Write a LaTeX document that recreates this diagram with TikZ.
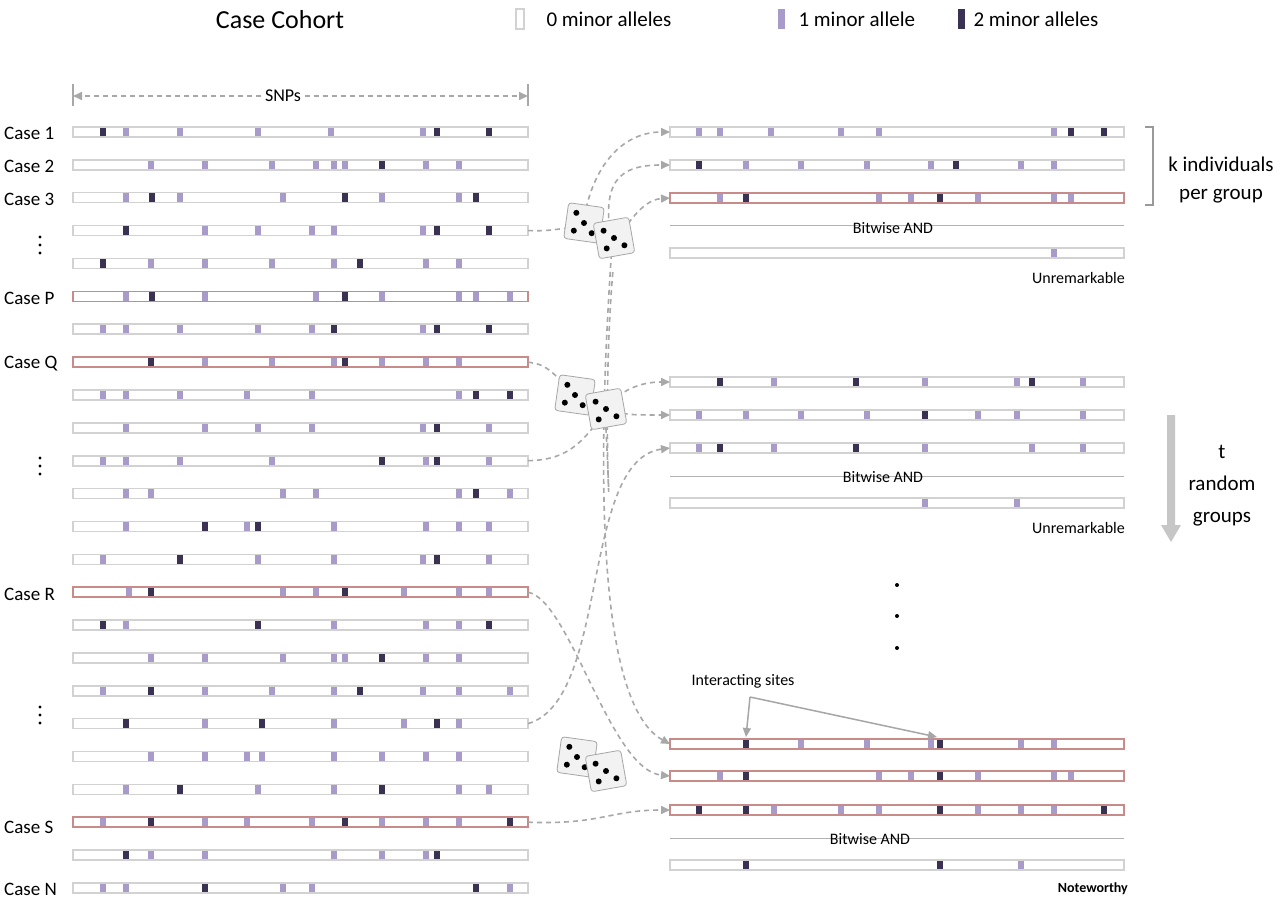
\documentclass[tikz,border=0pt]{standalone}
\usepackage{fontspec}
\setmainfont{Carlito}
\usetikzlibrary{arrows.meta}
\definecolor{lgt}{HTML}{A99BC9}
\definecolor{drk}{HTML}{3B3153}
\definecolor{frm}{HTML}{D2D2D2}
\definecolor{redf}{HTML}{C98A8A}
\definecolor{con}{HTML}{A8A8A8}
\newcommand\snprow[7]{%
  \fill[white] (#2,#4-5) rectangle (#3,#4+5);
  \foreach \xx in {#6}{\fill[lgt] (\xx-3,#4-5.5) rectangle (\xx+3,#4+5.5);}
  \foreach \xx in {#7}{\fill[drk] (\xx-3,#4-5.5) rectangle (\xx+3,#4+5.5);}
  \draw[#5,line width=1.6pt] (#2,#4-5) rectangle (#3,#4+5);
  \coordinate (#1e) at (#3,#4); \coordinate (#1w) at (#2,#4);}
\newcommand\lrow[5]{\snprow{#1}{73}{528}{#2}{#3}{#4}{#5}}
\newcommand\rrow[5]{\snprow{#1}{670}{1124}{#2}{#3}{#4}{#5}}
\newcommand\mydie[3]{%
  \begin{scope}[shift={(#1,#2)},rotate=#3]
    \filldraw[fill=white!90!gray,draw=gray!70,line width=0.8pt,rounded corners=3pt] (-18,-18) rectangle (18,18);
    \fill[black] (-9,-9) circle (3) (9,9) circle (3) (0,0) circle (3) (-9,9) circle (3);
  \end{scope}}
\newcommand\vdts[1]{\fill (40,#1-8) circle (1.7) (40,#1) circle (1.7) (40,#1+8) circle (1.7);}
\tikzset{conn/.style={con,dashed,line width=1.6pt,dash pattern=on 5pt off 4pt,-{Triangle[length=9pt,width=8pt]}},
  plain/.style={con,dashed,line width=1.6pt,dash pattern=on 5pt off 4pt},
  lab/.style={font=\fontsize{19}{19}\selectfont,anchor=west,inner sep=0},
  small/.style={font=\fontsize{16}{16}\selectfont,inner sep=0}}
\begin{document}
\begin{tikzpicture}[x=1pt,y=-1pt]
\useasboundingbox[fill=white] (0,0) rectangle (1280,901);
% header
\node[font=\fontsize{26}{26}\selectfont] (title) at (280,20) {Case Cohort};
\draw[frm,line width=1.5pt] (516,9) rectangle (524,29);
\node[font=\fontsize{21}{21}\selectfont,anchor=west] (l0) at (543,19) {0 minor alleles};
\fill[lgt] (778,9) rectangle (785,29);
\node[font=\fontsize{21}{21}\selectfont,anchor=west] (l1) at (795,19) {1 minor allele};
\fill[drk] (958,9) rectangle (965,29);
\node[font=\fontsize{21}{21}\selectfont,anchor=west] (l2) at (970,19) {2 minor alleles};
% SNPs
\draw[con,line width=1.2pt] (73,84) -- (73,106) (528,84) -- (528,106);
\node[font=\fontsize{18}{18}\selectfont] (snp) at (283,96) {SNPs};
\coordinate (sa) at (73,96); \coordinate (sb) at (528,96);
\draw[conn] (snp.west) -- (sa);
\draw[conn] (snp.east) -- (sb);
% left rows
\lrow{r1}{132}{frm}{126,180,258,331,423}{103,437,489}
\lrow{r2}{164.9}{frm}{151,205,272,316,334,345,426,459}{382}
\lrow{r3}{197.7}{frm}{126,180,283,382,459}{152,345,476}
\lrow{r4}{230.6}{frm}{205,258,312,334,423}{126,437,489}
\lrow{r5}{263.5}{frm}{151,205,272,334,426,459}{103,360}
\lrow{r6}{296.4}{redf}{126,205,316,382,459,476,510}{152,345}
\lrow{r7}{329.2}{frm}{103,126,180,258,312,423}{334,437,489}
\lrow{r8}{362.1}{redf}{205,272,334,382,426,459}{151,345}
\lrow{r9}{395}{frm}{103,126,180,247,312,459}{476,510}
\lrow{r10}{427.8}{frm}{126,205,258,312,423,489}{437}
\lrow{r11}{460.7}{frm}{103,126,180,272,426,489}{382,437}
\lrow{r12}{493.6}{frm}{126,151,283,316,459,510}{476}
\lrow{r13}{526.4}{frm}{126,247,334,426,459,489}{205,258}
\lrow{r14}{559.3}{frm}{103,258,334,423,489}{180,437}
\lrow{r15}{592.2}{redf}{129,283,316,404,459,489}{151,345}
\lrow{r16}{625}{frm}{126,334,426,459}{103,258,489}
\lrow{r17}{657.9}{frm}{151,205,283,334,345,426,459}{382}
\lrow{r18}{690.8}{frm}{103,205,272,334,423,459,510}{151,360}
\lrow{r19}{723.6}{frm}{205,334,404,459}{126,262,437}
\lrow{r20}{756.5}{frm}{151,205,247,262,334,382,426,459}{2000}
\lrow{r21}{789.4}{frm}{126,258,334,459,489}{180,382}
\lrow{r22}{822.2}{redf}{103,205,247,312,382,426,459}{151,345,510}
\lrow{r23}{855.1}{frm}{151,205,334,382,426}{126,437}
\lrow{r24}{888}{frm}{103,126,283,312,510}{205,476}
% left labels
\node[lab] (c1) at (4,133) {Case 1};
\node[lab] (c2) at (4,166) {Case 2};
\node[lab] (c3) at (4,199) {Case 3};
\node[lab] (cp) at (4,298) {Case P};
\node[lab] (cq) at (4,364) {Case Q};
\node[lab] (cr) at (4,594) {Case R};
\node[lab] (cs) at (4,827) {Case S};
\node[lab] (cn) at (4,889) {Case N};
\vdts{245}
\vdts{466}
\vdts{715}
% right group 1
\rrow{ga}{132}{frm}{699,720,771,841,879,1054}{1071,1104}
\rrow{gb}{165}{frm}{746,801,867,931,1021,1054}{699,956}
\rrow{gc}{198}{redf}{720,879,911,978,1054,1071}{746,940}
\draw[gray!60,line width=1pt] (670,226) -- (1124,226);
\node[small] (bw1) at (893,228) {Bitwise AND};
\rrow{gd}{253}{frm}{1054}{2000}
\node[small,anchor=east] (u1) at (1125,278) {Unremarkable};
% group 2
\rrow{ha}{382}{frm}{774,925,1017,1083}{720,856,1032}
\rrow{hb}{415}{frm}{699,746,801,867,978,1017,1083}{925}
\rrow{hc}{448}{frm}{699,774,925,1032,1083}{720,856}
\draw[gray!60,line width=1pt] (670,476) -- (1124,476);
\node[small] (bw2) at (883,477) {Bitwise AND};
\rrow{hd}{503}{frm}{925,1017}{2000}
\node[small,anchor=east] (u2) at (1125,528) {Unremarkable};
% dots
\fill (897,585) circle (2) (897,616) circle (2) (897,648) circle (2);
% group 3
\rrow{ka}{744}{redf}{801,867,931,1021,1054}{746,940}
\rrow{kb}{776}{redf}{720,879,911,978,1054,1071}{746,940}
\rrow{kc}{810}{redf}{774,841,879,978,1021,1054}{699,746,940,1104}
\draw[gray!60,line width=1pt] (670,838) -- (1124,838);
\node[small] (bw3) at (870,839) {Bitwise AND};
\rrow{kd}{865}{frm}{1021}{746,940}
\node[small,anchor=east,font=\bfseries\fontsize{14}{14}\selectfont] (nw) at (1128,889) {Noteworthy};
\node[small] (is) at (743,681) {Interacting sites};
\coordinate (isa) at (750,697);
\coordinate (t1) at (746,737); \coordinate (t2) at (937,737);
\draw[gray!70,line width=1.5pt,-{Triangle[length=9pt,width=8pt]}] (isa) -- (t1);
\draw[gray!70,line width=1.5pt,-{Triangle[length=9pt,width=8pt]}] (isa) -- (t2);
% bracket and arrow
\draw[gray!80,line width=1.2pt] (1145,127) -- (1153,127) -- (1153,205) -- (1145,205);
\node[font=\fontsize{21}{28}\selectfont,align=center] (kind) at (1221,180) {k individuals\\per group};
\fill[gray!45] (1167,415) rectangle (1175,525) (1161,525) -- (1181,525) -- (1171,542) -- cycle;
\node[font=\fontsize{21}{32}\selectfont,align=center] (trg) at (1222,486) {t\\random\\groups};
% dice
\coordinate (d1) at (583,226); \coordinate (d1o) at (612,245);
\coordinate (d2) at (575,394); \coordinate (d2o) at (605,410);
\coordinate (d3) at (577,758); \coordinate (d3o) at (606,770);
\coordinate (mid) at (613,270);
% connectors
\draw[plain] (r4e) .. controls (545,231) .. (d1);
\draw[conn] (d1) .. controls (590,170) and (620,132) .. (gaw);
\draw[conn] (d1o) .. controls (600,180) and (620,165) .. (gbw);
\draw[conn] (d1o) .. controls (625,230) and (640,200) .. (gcw);
\draw[plain] (r8e) .. controls (545,365) .. (d2);
\draw[plain] (r11e) .. controls (560,460) and (580,450) .. (d2o);
\draw[conn] (d2o) .. controls (620,390) and (640,382) .. (haw);
\draw[conn] (d2o) .. controls (630,415) .. (hbw);
\draw[conn] (r19e) .. controls (610,700) and (580,460) .. (hcw);
\draw[conn] (d1o) .. controls (600,420) and (590,700) .. (kaw);
\draw[conn] (r15e) .. controls (570,600) and (610,770) .. (kbw);
\draw[conn] (r22e) .. controls (600,825) and (610,810) .. (kcw);
\draw[plain] (d2o) .. controls (615,600) and (600,420) .. (mid);
\mydie{584}{223}{-8}
\mydie{614}{238}{10}
\mydie{575}{395}{-8}
\mydie{606}{409}{10}
\mydie{577}{757}{-8}
\mydie{606}{771}{10}
\end{tikzpicture}
\end{document}
